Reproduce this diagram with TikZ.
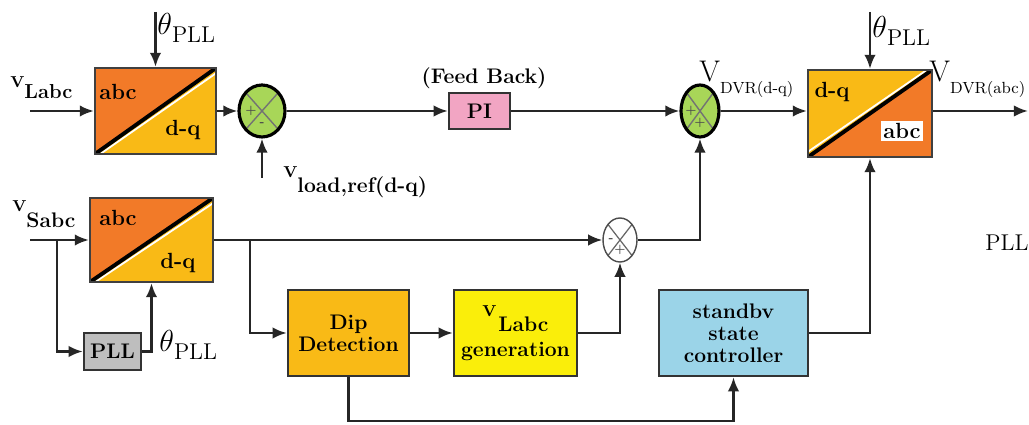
\documentclass[tikz,border=0pt]{standalone}
\usepackage{fontspec}
\usetikzlibrary{arrows.meta,shapes.geometric,calc}
\definecolor{orC}{RGB}{242,122,40}
\definecolor{goC}{RGB}{249,186,22}
\definecolor{yeC}{RGB}{250,238,10}
\definecolor{blC}{RGB}{155,212,232}
\definecolor{grC}{RGB}{190,190,190}
\definecolor{piC}{RGB}{242,165,195}
\definecolor{gnC}{RGB}{168,214,88}
\newcommand\thPLL[1]{{\fontsize{17}{17}\selectfont$\theta$}\raisebox{-#1}{\fontsize{13}{13}\selectfont PLL}}
\begin{document}
\begin{tikzpicture}[x=0.02cm,y=-0.02cm,
  arr/.style={-{Latex[length=8pt,width=6.5pt]}, line width=1.4pt, draw=black!85},
  blk/.style={rectangle, draw=black!80, line width=1.4pt, inner sep=2pt,
     font=\bfseries\fontsize{12}{12.5}\selectfont, align=center},
  cvt/.style={font=\bfseries\fontsize{12.5}{12.5}\selectfont, inner sep=0pt},
  sgn/.style={font=\bfseries\fontsize{6}{6}\selectfont, inner sep=0pt, text=black!70},
  convAD/.style={rectangle, draw=black!75, line width=1.3pt, inner sep=0pt, path picture={
    \fill[orC] (path picture bounding box.south west) -- (path picture bounding box.north west) -- (path picture bounding box.north east) -- cycle;
    \fill[goC] (path picture bounding box.south west) -- (path picture bounding box.south east) -- (path picture bounding box.north east) -- cycle;
    \draw[white,line width=1pt] ([xshift=3pt]path picture bounding box.south west) -- ([yshift=-3pt]path picture bounding box.north east);
    \draw[black,line width=2.2pt] (path picture bounding box.south west) -- (path picture bounding box.north east);}},
  convDA/.style={rectangle, draw=black!75, line width=1.3pt, inner sep=0pt, path picture={
    \fill[goC] (path picture bounding box.south west) -- (path picture bounding box.north west) -- (path picture bounding box.north east) -- cycle;
    \fill[orC] (path picture bounding box.south west) -- (path picture bounding box.south east) -- (path picture bounding box.north east) -- cycle;
    \draw[white,line width=1pt] ([yshift=3pt]path picture bounding box.south west) -- ([xshift=-3pt]path picture bounding box.north east);
    \draw[black,line width=2.2pt] (path picture bounding box.south west) -- (path picture bounding box.north east);}},
  sumj/.style={ellipse, draw=black, line width=1.8pt, fill=gnC, inner sep=0pt, path picture={
    \draw[black!55,line width=0.8pt] (path picture bounding box.north west) -- (path picture bounding box.south east)
      (path picture bounding box.south west) -- (path picture bounding box.north east);}},
  sumw/.style={ellipse, draw=black!70, line width=0.8pt, fill=white, inner sep=0pt, path picture={
    \draw[black!60,line width=0.7pt] (path picture bounding box.north west) -- (path picture bounding box.south east)
      (path picture bounding box.south west) -- (path picture bounding box.north east);}}
]
\useasboundingbox[fill=white] (0,0) rectangle (1029,425);

% blocks
\node[convAD, minimum width=2.42cm, minimum height=1.72cm] (box1) at (155.5,111) {};
\node[convAD, minimum width=2.46cm, minimum height=1.68cm] (box3) at (151.5,240) {};
\node[convDA, minimum width=2.48cm, minimum height=1.74cm] (box2) at (870,113.5) {};
\node[sumj, minimum width=0.92cm, minimum height=1.04cm] (sum1) at (262,111) {};
\node[sumj, minimum width=0.76cm, minimum height=1.04cm] (sum2) at (700,111) {};
\node[sumw, minimum width=0.68cm, minimum height=0.88cm] (sum3) at (620,240) {};
\node[blk, fill=piC, minimum width=1.22cm, minimum height=0.72cm] (pi) at (479.5,111) {PI};
\node[blk, fill=grC, minimum width=1.14cm, minimum height=0.74cm] (pll) at (112.5,351.5) {PLL};
\node[blk, fill=goC, minimum width=2.42cm, minimum height=1.72cm] (dip) at (348.5,333) {Dip\\Detection};
\node[blk, fill=yeC, minimum width=2.46cm, minimum height=1.72cm] (gen) at (515.5,333)
   {\raisebox{8.5pt}{\fontsize{9}{9}\selectfont V}\kern1pt Labc\\[2pt]generation};
\node[blk, fill=blC, minimum width=2.98cm, minimum height=1.72cm] (stb) at (733.5,333) {standbv\\state\\controller};

% converter texts
\node[cvt] (t1a) at (118,92) {abc};
\node[cvt] (t1b) at (183,130) {d-q};
\node[cvt] (t3a) at (118,218) {abc};
\node[cvt] (t3b) at (178,263) {d-q};
\node[cvt] (t2a) at (832,92) {d-q};
\node[cvt, fill=white, inner sep=1.5pt] (t2b) at (902,131) {abc};

% junction signs
\node[sgn] (s1a) at ($(sum1.center)+(-11,0)$) {+};
\node[sgn] (s1b) at ($(sum1.center)+(0,13)$) {-};
\node[sgn] (s2a) at ($(sum2.center)+(-9,0)$) {+};
\node[sgn] (s2b) at ($(sum2.center)+(0,12)$) {+};
\node[sgn] (s3a) at ($(sum3.center)+(-9,0)$) {-};
\node[sgn] (s3b) at ($(sum3.center)+(0,10)$) {+};

% coordinates
\coordinate (inL) at (30,111);
\coordinate (thA) at (155.5,12);
\coordinate (vld) at (262,178);
\coordinate (thB) at (870,12);
\coordinate (outR) at (1028,111);
\coordinate (inS) at (30,240);
\coordinate (br1) at (57,240);
\coordinate (br2) at (250,240);

% connectors
\draw[arr] (inL) -- (box1.west);
\draw[arr] (thA) -- (box1.north);
\draw[arr] (box1.east) -- (sum1.west);
\draw[arr] (vld) -- (sum1.south);
\draw[arr] (sum1.east) -- (pi.west);
\draw[arr] (pi.east) -- (sum2.west);
\draw[arr] (sum2.east) -- (sum2.east -| box2.west);
\draw[arr] (thB) -- (box2.north);
\draw[arr] (box2.east |- sum2.east) -- (outR);
\draw[arr] (inS) -- (box3.west);
\draw[arr] (br1) |- (pll.west);
\draw[arr] (pll.east) -| (box3.south);
\draw[arr] (box3.east) -- (sum3.west);
\draw[arr] (br2) |- (dip.west);
\draw[arr] (dip.east) -- (gen.west);
\draw[arr] (gen.east) -| (sum3.south);
\draw[arr] (sum3.east) -| (sum2.south);
\draw[arr] (stb.east) -| (box2.south);
\draw[arr] (dip.south) -- ++(0,44) -| (stb.south);

% labels
\node[anchor=base west, inner sep=0pt] (lVL) at (10,88)
  {\bfseries\fontsize{9}{9}\selectfont V\raisebox{-5.7pt}{\fontsize{11.5}{11.5}\selectfont Labc}};
\node[anchor=base west, inner sep=0pt] (lVS) at (12,212)
  {\bfseries\fontsize{9}{9}\selectfont V\raisebox{-9pt}{\fontsize{12}{12}\selectfont Sabc}};
\node[anchor=base west, inner sep=0pt] (lVld) at (283,178)
  {\bfseries\fontsize{9}{9}\selectfont V\raisebox{-8.5pt}{\fontsize{12}{12}\selectfont load,ref(d-q)}};
\node[font=\bfseries\fontsize{12}{12}\selectfont] (fb) at (484,78) {(Feed Back)};
\node[anchor=base west, inner sep=0pt] (lDq) at (699,82)
  {\fontsize{17}{17}\selectfont V\raisebox{-6.8pt}{\fontsize{9.2}{9.2}\selectfont DVR(d-q)}};
\node[anchor=base west, inner sep=0pt] (lDa) at (929,82)
  {\fontsize{17}{17}\selectfont V\raisebox{-6.8pt}{\fontsize{9.2}{9.2}\selectfont DVR(abc)}};
\node[anchor=base west, inner sep=0pt] (th1) at (157,35) {\thPLL{4.5pt}};
\node[anchor=base west, inner sep=0pt] (th2) at (872,38) {\thPLL{4.5pt}};
\node[anchor=base west, inner sep=0pt] (th3) at (159,352) {\thPLL{4.5pt}};
\node[font=\fontsize{13}{13}\selectfont] (pllR) at (1007,243) {PLL};
\end{tikzpicture}
\end{document}
